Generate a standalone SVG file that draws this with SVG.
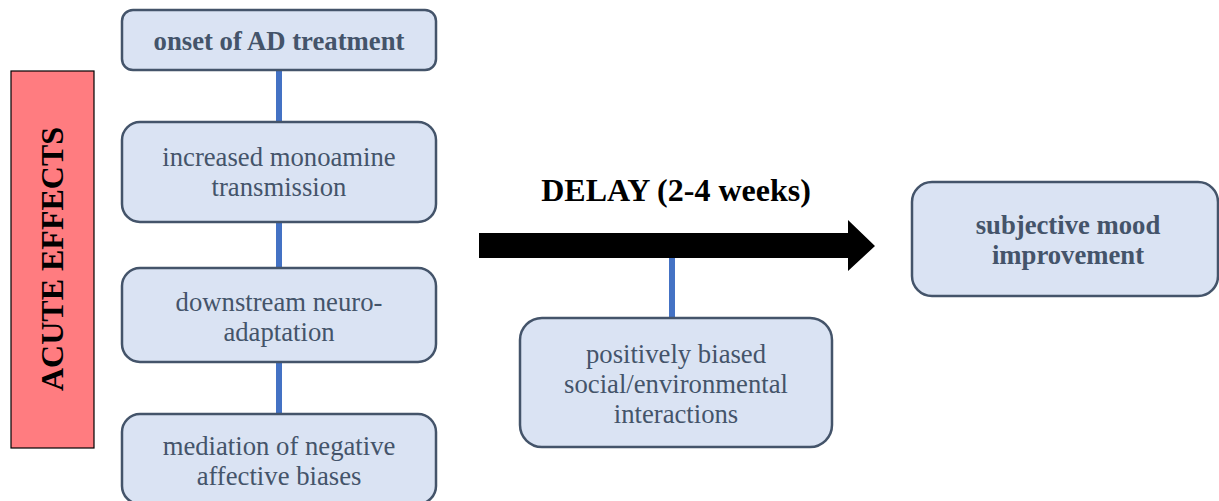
<svg xmlns="http://www.w3.org/2000/svg" width="1219" height="501" viewBox="0 0 1219 501">
<style>
.nodebox{fill:#dae3f3;stroke:#44546a;stroke-width:2.5}
.conn{stroke:#4472c4;stroke-width:6}
</style>
<rect width="1219" height="501" fill="#fff"/>
<g id="acute">
<rect x="11" y="71" width="83" height="377" fill="#ff7c80" stroke="#000" stroke-width="1.2"/>
<text transform="translate(63,259) rotate(-90)" font-family="Liberation Serif, serif" font-size="32" font-weight="bold" text-anchor="middle" fill="#000">ACUTE EFFECTS</text>
</g>
<g id="connectors">
<line class="conn" x1="279" y1="70" x2="279" y2="122"/>
<line class="conn" x1="279" y1="222" x2="279" y2="268"/>
<line class="conn" x1="279" y1="362" x2="279" y2="414"/>
<line class="conn" x1="672" y1="256" x2="672" y2="318"/>
<polygon points="479,233 848,233 848,220 875,246 848,271 848,258 479,258" fill="#000"/>
</g>
<g id="delay-label">
<text x="676" y="201" font-family="Liberation Serif, serif" font-size="32" font-weight="bold" text-anchor="middle" fill="#000">DELAY (2-4 weeks)</text>
</g>
<g id="onset">
<rect class="nodebox" x="122" y="10" width="314" height="60" rx="11"/>
<text x="279" y="50" font-family="Liberation Serif, serif" font-size="26.7" font-weight="bold" fill="#44546a" text-anchor="middle">onset of AD treatment</text>
</g>
<g id="monoamine" font-family="Liberation Serif, serif" font-size="26.7" fill="#44546a" text-anchor="middle">
<rect class="nodebox" x="122" y="122" width="314" height="100" rx="18"/>
<text x="279" y="166">increased monoamine</text>
<text x="279" y="196">transmission</text>
</g>
<g id="neuro" font-family="Liberation Serif, serif" font-size="26.7" fill="#44546a" text-anchor="middle">
<rect class="nodebox" x="122" y="268" width="314" height="94" rx="18"/>
<text x="279" y="311">downstream neuro-</text>
<text x="279" y="341">adaptation</text>
</g>
<g id="mediation" font-family="Liberation Serif, serif" font-size="26.7" fill="#44546a" text-anchor="middle">
<rect class="nodebox" x="122" y="414" width="314" height="90" rx="18"/>
<text x="279" y="455">mediation of negative</text>
<text x="279" y="485">affective biases</text>
</g>
<g id="positive" font-family="Liberation Serif, serif" font-size="26.7" fill="#44546a" text-anchor="middle">
<rect class="nodebox" x="520" y="318" width="312" height="129" rx="22"/>
<text x="676" y="363">positively biased</text>
<text x="676" y="393">social/environmental</text>
<text x="676" y="423">interactions</text>
</g>
<g id="mood" font-family="Liberation Serif, serif" font-size="26.7" font-weight="bold" fill="#44546a" text-anchor="middle">
<rect class="nodebox" x="912" y="182" width="306" height="114" rx="20"/>
<text x="1068" y="234">subjective mood</text>
<text x="1068" y="264">improvement</text>
</g>
</svg>
